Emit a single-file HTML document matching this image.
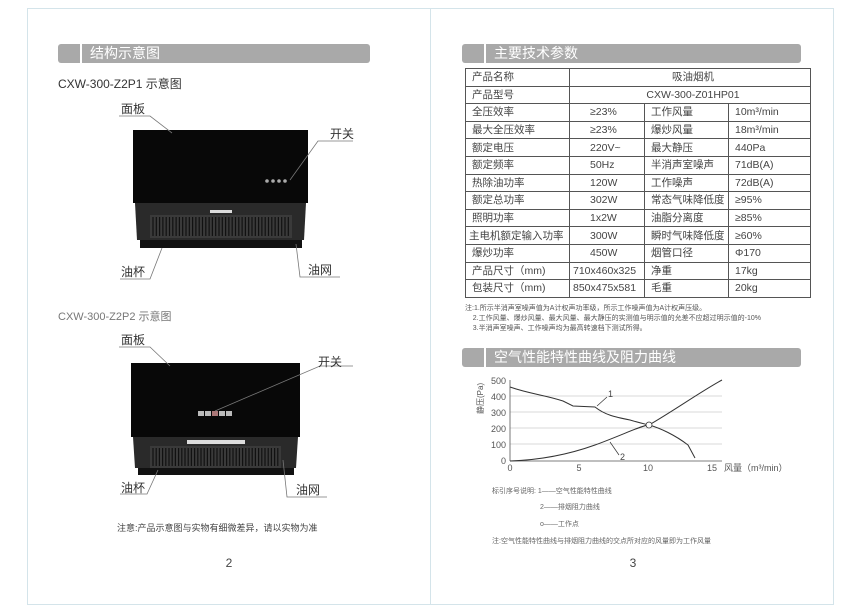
<!DOCTYPE html>
<html><head><meta charset="utf-8"><style>
body{margin:0;width:859px;height:613px;background:#fff;font-family:"Liberation Sans","Noto Sans CJK SC",sans-serif;position:relative;overflow:hidden;color:#444}
.a{position:absolute}
.frame{position:absolute;border:1px solid #d4e4ea}
.hb{position:absolute;height:19px;background:#a9a9a9;border-radius:3px;color:#fff;font-size:14px;line-height:19px}
.hb .s{position:absolute;left:22px;top:0;width:2px;height:19px;background:#fff}
.hb span{position:absolute;left:32px}
table{border-collapse:collapse;position:absolute;left:465px;top:68px;width:345px;table-layout:fixed;font-size:10.5px;color:#444}
td{border:1px solid #555;height:16.6px;padding:0 0 0 6px;line-height:16px;white-space:nowrap;overflow:hidden}
.lbl{font-size:12px;color:#333}
</style></head><body>
<div class="frame" style="left:27px;top:8px;width:805px;height:595px"></div>
<div class="a" style="left:430px;top:8px;width:1px;height:596px;background:#d4e4ea"></div>

<div class="hb" style="left:58px;top:44px;width:312px"><div class="s"></div><span>结构示意图</span></div>
<div class="a" style="left:58px;top:75px;font-size:12px;color:#333">CXW-300-Z2P1 示意图</div>
<div class="a" style="left:58px;top:308px;font-size:11px;color:#777">CXW-300-Z2P2 示意图</div>

<svg class="a" style="left:0;top:0" width="430" height="613">
<!-- hood 1 -->
<rect x="133" y="130" width="175" height="73" fill="#080808"/>
<polygon points="135,203 306,203 304,240 137,240" fill="#2a2a2a"/>
<rect x="140" y="240" width="162" height="8" fill="#111"/>
<rect x="210" y="210" width="22" height="3" fill="#ddd"/>
<g fill="#aaa"><circle cx="267" cy="181" r="1.8"/><circle cx="273" cy="181" r="1.8"/><circle cx="279" cy="181" r="1.8"/><circle cx="285" cy="181" r="1.8"/></g>
<rect x="150" y="215" width="142" height="23" fill="#3a3a3a"/>
<!-- hood 2 -->
<rect x="131" y="363" width="169" height="74" fill="#080808"/>
<polygon points="133,437 298,437 296,468 135,468" fill="#2a2a2a"/>
<rect x="138" y="468" width="156" height="7" fill="#111"/>
<rect x="187" y="440" width="58" height="4" fill="#ddd"/>
<g fill="#bbb"><rect x="198" y="411" width="6" height="5"/><rect x="205" y="411" width="6" height="5"/><rect x="219" y="411" width="6" height="5"/><rect x="226" y="411" width="6" height="5"/></g>
<rect x="212" y="411" width="6" height="5" fill="#a77"/>
<rect x="150" y="446" width="131" height="22" fill="#3a3a3a"/>
<g stroke="#111" stroke-width="1.2" id="vents"></g>
<g stroke="#777" stroke-width="0.8" fill="none">
<polyline points="119,116 150,116 172,133"/>
<polyline points="353,141 318,141 290,180"/>
<polyline points="120,279 150,279 162,248"/>
<polyline points="340,277 300,277 296,244"/>
<polyline points="119,347 150,347 170,366"/>
<polyline points="353,366 320,366 215,411"/>
<polyline points="120,494 147,494 158,470"/>
<polyline points="327,497 287,497 283,460"/>
</g>
<text x="229" y="567" font-size="12" fill="#444" text-anchor="middle" font-family="Liberation Sans">2</text>
</svg>
<div class="a lbl" style="left:121px;top:100px">面板</div>
<div class="a lbl" style="left:330px;top:125px">开关</div>
<div class="a lbl" style="left:121px;top:263px">油杯</div>
<div class="a lbl" style="left:308px;top:261px">油网</div>
<div class="a lbl" style="left:121px;top:331px">面板</div>
<div class="a lbl" style="left:318px;top:353px">开关</div>
<div class="a lbl" style="left:121px;top:479px">油杯</div>
<div class="a lbl" style="left:296px;top:481px">油网</div>
<div class="a" style="left:117px;top:521px;font-size:9px;color:#444">注意:产品示意图与实物有细微差异，请以实物为准</div>

<div class="hb" style="left:462px;top:44px;width:339px"><div class="s"></div><span>主要技术参数</span></div>
<table>
<colgroup><col style="width:104px"><col style="width:75px"><col style="width:84px"><col style="width:82px"></colgroup>
<tr><td>产品名称</td><td colspan="3" style="text-align:center">吸油烟机</td></tr>
<tr><td>产品型号</td><td colspan="3" style="text-align:center">CXW-300-Z01HP01</td></tr>
<tr><td>全压效率</td><td style="padding-left:20px">≥23%</td><td>工作风量</td><td>10m³/min</td></tr>
<tr><td>最大全压效率</td><td style="padding-left:20px">≥23%</td><td>爆炒风量</td><td>18m³/min</td></tr>
<tr><td>额定电压</td><td style="padding-left:20px">220V~</td><td>最大静压</td><td>440Pa</td></tr>
<tr><td>额定频率</td><td style="padding-left:20px">50Hz</td><td>半消声室噪声</td><td>71dB(A)</td></tr>
<tr><td>热除油功率</td><td style="padding-left:20px">120W</td><td>工作噪声</td><td>72dB(A)</td></tr>
<tr><td>额定总功率</td><td style="padding-left:20px">302W</td><td>常态气味降低度</td><td>≥95%</td></tr>
<tr><td>照明功率</td><td style="padding-left:20px">1x2W</td><td>油脂分离度</td><td>≥85%</td></tr>
<tr><td style="padding-left:3px">主电机额定输入功率</td><td style="padding-left:20px">300W</td><td>瞬时气味降低度</td><td>≥60%</td></tr>
<tr><td>爆炒功率</td><td style="padding-left:20px">450W</td><td>烟管口径</td><td>Φ170</td></tr>
<tr><td>产品尺寸（mm)</td><td style="padding-left:3px">710x460x325</td><td>净重</td><td>17kg</td></tr>
<tr><td>包装尺寸（mm)</td><td style="padding-left:3px">850x475x581</td><td>毛重</td><td>20kg</td></tr>
</table>
<div class="a" style="left:465px;top:304px;font-size:7px;line-height:10px;color:#555">注:1.所示半消声室噪声值为A计权声功率级，所示工作噪声值为A计权声压级。<br>&nbsp;&nbsp;&nbsp;&nbsp;2.工作风量、爆炒风量、最大风量、最大静压的实测值与明示值的允差不应超过明示值的-10%<br>&nbsp;&nbsp;&nbsp;&nbsp;3.半消声室噪声、工作噪声均为最高转速档下测试所得。</div>

<div class="hb" style="left:462px;top:348px;width:339px"><div class="s"></div><span>空气性能特性曲线及阻力曲线</span></div>
<svg class="a" style="left:460px;top:370px" width="370" height="200" font-family="Liberation Sans,Noto Sans CJK SC,sans-serif">
<g stroke="#ccc" stroke-width="0.8">
<line x1="50" y1="26" x2="262" y2="26"/><line x1="50" y1="42" x2="262" y2="42"/><line x1="50" y1="58" x2="262" y2="58"/><line x1="50" y1="74" x2="262" y2="74"/>
</g>
<line x1="50" y1="10" x2="50" y2="91" stroke="#555" stroke-width="0.8"/>
<line x1="50" y1="91" x2="262" y2="91" stroke="#555" stroke-width="0.8"/>
<g font-size="9" fill="#555" text-anchor="end">
<text x="46" y="14">500</text><text x="46" y="30">400</text><text x="46" y="46">300</text><text x="46" y="62">200</text><text x="46" y="78">100</text><text x="46" y="94">0</text>
</g>
<g font-size="9" fill="#555" text-anchor="middle">
<text x="50" y="101">0</text><text x="119" y="101">5</text><text x="188" y="101">10</text><text x="252" y="101">15</text>
</g>
<text x="264" y="101" font-size="9" fill="#555">风量（m³/min）</text>
<text x="0" y="0" font-size="8" fill="#555" transform="translate(23,44) rotate(-90)">静压(Pa)</text>
<path d="M50,17 C70,24 85,25 103,31 L113,36 L135,37 C145,45 155,47 170,50 C180,53 185,54 189,55 C200,58 215,65 228,75 L235,88" fill="none" stroke="#333" stroke-width="1"/>
<path d="M50,91 C80,90 110,84 135,75 C160,66 185,54 189,55 C215,40 240,22 262,10" fill="none" stroke="#333" stroke-width="1"/>
<circle cx="189" cy="55" r="3" fill="#fff" stroke="#333" stroke-width="0.8"/>
<line x1="137" y1="36" x2="147" y2="27" stroke="#333" stroke-width="0.7"/><text x="148" y="27" font-size="9" fill="#444">1</text>
<line x1="150" y1="72" x2="159" y2="85" stroke="#333" stroke-width="0.7"/><text x="160" y="90" font-size="9" fill="#444">2</text>
<g font-size="7" fill="#666">
<text x="32" y="123">标引序号说明:  1——空气性能特性曲线</text>
<text x="80" y="139">2——排烟阻力曲线</text>
<text x="80" y="156">o——工作点</text>
<text x="32" y="173">注:空气性能特性曲线与排烟阻力曲线的交点所对应的风量即为工作风量</text>
</g>
<text x="173" y="197" font-size="12" fill="#444" text-anchor="middle">3</text>
</svg>
<script>
var s='';for(var x=153;x<290;x+=3.3)s+='<line x1="'+x+'" y1="217" x2="'+x+'" y2="236"/>';
for(var x=153;x<280;x+=3.2)s+='<line x1="'+x+'" y1="448" x2="'+x+'" y2="466"/>';
document.getElementById('vents').innerHTML=s;
</script>
</body></html>
